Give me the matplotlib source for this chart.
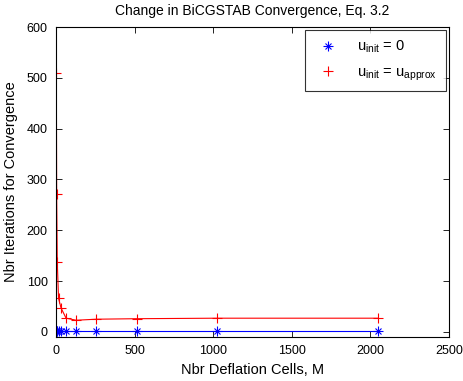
import matplotlib
matplotlib.use("Agg")
import matplotlib.pyplot as plt
from matplotlib.lines import Line2D
from matplotlib.legend_handler import HandlerTuple

plt.rcParams['font.family'] = ['Liberation Sans', 'DejaVu Sans']
plt.rcParams['mathtext.fontset'] = 'custom'
plt.rcParams['mathtext.rm'] = 'Liberation Sans'

# deflation cell counts and iteration counts
cells = [2, 4, 8, 16, 32, 64, 128, 256, 512, 1024, 2048]
iters_zero = [1, 1, 1, 1, 1, 1, 1, 1, 1, 1, 1]
iters_approx = [510, 272, 138, 66, 47, 27, 23, 25, 26, 27, 27]

xticks = [0, 500, 1000, 1500, 2000, 2500]
yticks = [0, 100, 200, 300, 400, 500, 600]

fig = plt.figure(figsize=(4.63, 3.81), dpi=100)
ax = fig.add_axes([0.121, 0.1155, 0.849, 0.8135])

# asterisk marker built from a plus and a cross
star_kw = dict(color='blue', ls='none', mew=0.8)
ax.plot(cells, iters_zero, '-', color='blue', lw=0.8)
ax.plot(cells, iters_zero, marker='+', ms=7, **star_kw)
ax.plot(cells, iters_zero, marker='x', ms=5, **star_kw)
ax.plot(cells, iters_approx, '-', color='red', lw=0.8)
ax.plot(cells, iters_approx, '+', color='red', ms=7, mew=0.8, ls='none')

ax.set_xlim(0, 2500)
ax.set_ylim(-10, 600)
ax.set_xticks(xticks)
ax.set_yticks(yticks)
ax.tick_params(direction='in', length=4, width=0.6, top=True, right=True,
               labelsize=9, pad=6)
for s in ax.spines.values():
    s.set_linewidth(0.8)

ax.set_title('Change in BiCGSTAB Convergence, Eq. 3.2', fontsize=10, pad=9)
ax.set_xlabel('Nbr Deflation Cells, M', fontsize=10.5, labelpad=4)
ax.set_ylabel('Nbr Iterations for Convergence', fontsize=10.5, labelpad=6)

h_zero = (Line2D([], [], marker='+', ms=7, **star_kw),
          Line2D([], [], marker='x', ms=5, **star_kw))
h_approx = Line2D([], [], color='red', marker='+', ls='none', ms=7, mew=0.8)
labels = [r'u$_{\mathrm{init}}$ = 0', r'u$_{\mathrm{init}}$ = u$_{\mathrm{approx}}$']
leg = ax.legend([h_zero, h_approx], labels, loc='upper right', fontsize=10.5,
                handler_map={tuple: HandlerTuple(ndivide=1, pad=0)},
                frameon=True, fancybox=False, edgecolor='black',
                borderpad=0.6, handletextpad=1.0, labelspacing=0.65,
                handlelength=2.0, borderaxespad=0.2)
leg.get_frame().set_linewidth(0.8)

fig.savefig('out.png', dpi=100, facecolor='white')
